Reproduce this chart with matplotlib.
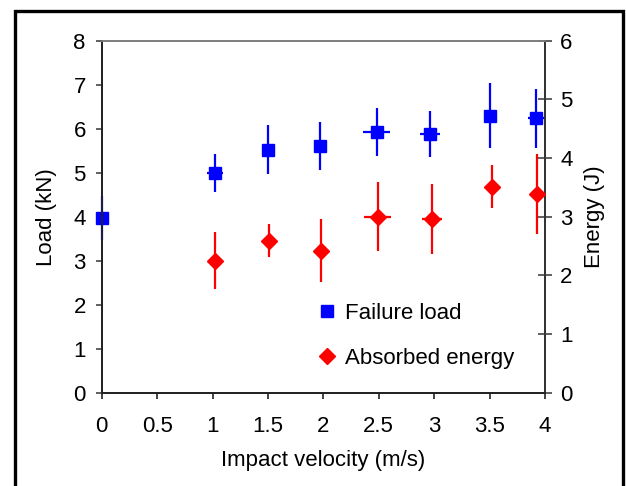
import matplotlib
matplotlib.use("Agg")
import matplotlib.pyplot as plt
from matplotlib.patches import Rectangle

plt.rcParams['font.family'] = ['Liberation Sans', 'DejaVu Sans']

# failure load (left axis, kN)
v_load = [0.0, 1.02, 1.5, 1.97, 2.48, 2.96, 3.5, 3.92]
load = [3.96, 5.0, 5.52, 5.61, 5.92, 5.88, 6.29, 6.24]
load_err = [0.5, 0.43, 0.56, 0.54, 0.54, 0.52, 0.74, 0.67]
v_load_err = [0.0, 0.07, 0.05, 0.04, 0.12, 0.09, 0.0, 0.07]

# absorbed energy (right axis, J)
v_en = [1.02, 1.51, 1.98, 2.49, 2.98, 3.52, 3.93]
energy = [2.25, 2.59, 2.42, 3.0, 2.96, 3.51, 3.38]
energy_err = [0.49, 0.28, 0.54, 0.59, 0.59, 0.37, 0.68]
v_en_err = [0.05, 0.0, 0.0, 0.12, 0.09, 0.0, 0.0]

fig = plt.figure(figsize=(6.26, 4.86), dpi=100)
ax = fig.add_axes([0.1625, 0.192, 0.7081, 0.7243])
ax2 = ax.twinx()

h1 = ax.errorbar(v_load, load, yerr=load_err, xerr=v_load_err, fmt='s', color='#0000ff',
                 ms=8, elinewidth=1.6, capsize=0, label='Failure load', clip_on=False, zorder=3)
h2 = ax2.errorbar(v_en, energy, yerr=energy_err, xerr=v_en_err, fmt='D', color='#ff0000',
                  ms=8, elinewidth=1.6, capsize=0, label='Absorbed energy', clip_on=False, zorder=3)

ax.set_xlim(0, 4)
ax.set_ylim(0, 8)
ax2.set_ylim(0, 6)
ax.set_xticks([0, 0.5, 1, 1.5, 2, 2.5, 3, 3.5, 4])
ax.set_xticklabels(['0', '0.5', '1', '1.5', '2', '2.5', '3', '3.5', '4'])
ax.set_yticks(range(0, 9))
ax2.set_yticks(range(0, 7))

fs = 16
ax.tick_params(axis='x', direction='out', length=4, width=1.2, pad=13, labelsize=fs, colors='#222222', labelcolor='black')
ax.tick_params(axis='y', direction='out', length=4.5, width=1.2, pad=7, labelsize=fs, colors='#444444', labelcolor='black')
ax2.tick_params(axis='y', direction='inout', length=10, width=1.2, pad=6, labelsize=fs, colors='#444444', labelcolor='black')

for a in (ax, ax2):
    a.spines['top'].set_color('#808080')
    a.spines['left'].set_color('#222222')
    a.spines['bottom'].set_color('#222222')
    a.spines['right'].set_color('#333333')
    for s in a.spines.values():
        s.set_linewidth(1.3)

ax.set_xlabel('Impact velocity (m/s)', fontsize=fs, labelpad=9)
ax.set_ylabel('Load (kN)', fontsize=fs, labelpad=12)
ax2.set_ylabel('Energy (J)', fontsize=fs, labelpad=8)

ax2.legend([h1[0], h2[0]], ['Failure load', 'Absorbed energy'], frameon=False, fontsize=fs,
           loc='upper left', bbox_to_anchor=(0.49, 0.40), bbox_transform=fig.transFigure,
           handlelength=0.8, handletextpad=0.4, labelspacing=1.1, borderpad=0)

fig.patches.append(Rectangle((14.5 / 626, -0.05), 608 / 626, 1 - 10.5 / 486 + 0.05,
                             transform=fig.transFigure, fill=False, lw=2.4, ec='black'))

fig.savefig('out.png', dpi=100)
